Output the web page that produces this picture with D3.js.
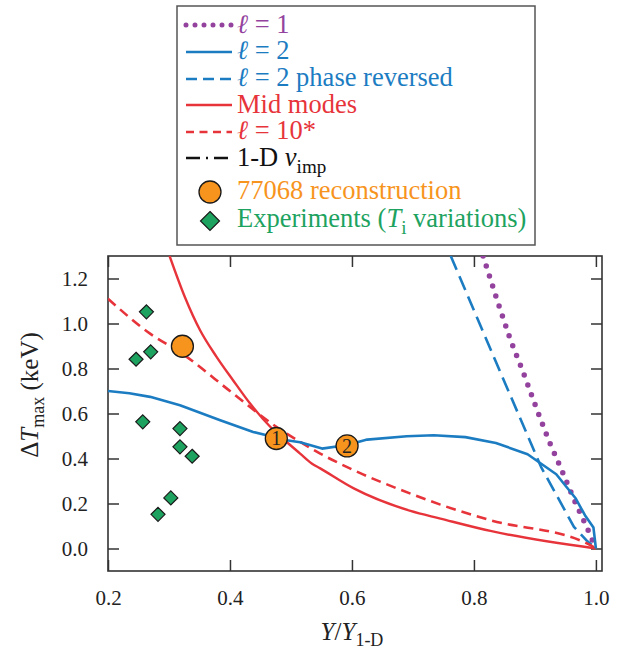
<!DOCTYPE html>
<html>
<head>
<meta charset="utf-8">
<script src="https://cdn.jsdelivr.net/npm/d3@7"></script>
<style>
body { margin: 0; background: #fff; }
</style>
</head>
<body>
<script>
// tick values
var xTicks = [0.2, 0.4, 0.6, 0.8, 1.0];
var yTicks = [0.0, 0.2, 0.4, 0.6, 0.8, 1.0, 1.2];

// l = 1 (purple dotted)
var l1X = [0.815, 0.838, 0.860, 0.880, 0.904, 0.923, 0.944, 0.964, 0.986, 1.0];
var l1Y = [1.30, 1.104, 0.926, 0.789, 0.612, 0.478, 0.348, 0.218, 0.089, 0.0];

// l = 2 (blue solid)
var l2X = [0.2, 0.235, 0.269, 0.318, 0.384, 0.438, 0.493, 0.515, 0.551, 0.592, 0.625, 0.69, 0.734, 0.786, 0.836, 0.888, 0.935, 0.967, 0.982, 0.996, 1.0];
var l2Y = [0.70, 0.690, 0.674, 0.637, 0.570, 0.518, 0.481, 0.472, 0.444, 0.460, 0.484, 0.499, 0.503, 0.495, 0.469, 0.419, 0.330, 0.222, 0.148, 0.093, 0.0];

// l = 2 phase reversed (blue dashed)
var l2rX = [0.762, 0.836, 0.910, 0.964, 0.985, 1.0];
var l2rY = [1.30, 0.83, 0.363, 0.096, 0.035, 0.0];

// mid modes (red solid)
var midX = [0.301, 0.326, 0.351, 0.378, 0.405, 0.433, 0.466, 0.482, 0.515, 0.534, 0.548, 0.603, 0.696, 0.745, 0.827, 1.0];
var midY = [1.30, 1.118, 0.970, 0.852, 0.748, 0.644, 0.541, 0.500, 0.422, 0.378, 0.356, 0.267, 0.167, 0.133, 0.078, 0.0];

// l = 10* (red dashed)
var l10X = [0.2, 0.269, 0.321, 0.405, 0.476, 0.515, 0.548, 0.603, 0.696, 0.745, 0.827, 0.986, 1.0];
var l10Y = [1.11, 0.955, 0.867, 0.689, 0.541, 0.474, 0.422, 0.348, 0.244, 0.195, 0.126, 0.022, 0.0];

// 77068 reconstruction points (orange)
var reconX = [0.322, 0.476, 0.592];
var reconY = [0.899, 0.489, 0.456];
var reconLabels = ["", "1", "2"];

// experiments (green diamonds)
var expX = [0.263, 0.246, 0.270, 0.257, 0.318, 0.318, 0.338, 0.303, 0.282];
var expY = [1.052, 0.841, 0.874, 0.563, 0.533, 0.452, 0.410, 0.225, 0.152];

// colours
var purple = "#93439e", blue = "#1c7cc2", red = "#e7343b",
    orange = "#f7941d", green = "#1da35f", ink = "#333";
var serifFont = "'Liberation Serif', 'Times New Roman', serif";

var W = 623, H = 653;
var pLeft = 108, pRight = 602, pTop = 256, pBottom = 571;

var svg = d3.select("body").append("svg")
	.attr("width", W)
	.attr("height", H)
	.style("font-family", serifFont);

var x = d3.scaleLinear().domain([0.2, 1.01]).range([pLeft, pRight]);
var y = d3.scaleLinear().domain([-0.1, 1.3]).range([pBottom, pTop]);

// clip for the curves
svg.append("clipPath").attr("id", "plotclip")
	.append("rect")
	.attr("x", pLeft).attr("y", pTop)
	.attr("width", pRight - pLeft).attr("height", pBottom - pTop);

// axes, ticks pointing inward
var ax = svg.append("g").attr("class", "axes");
ax.append("g").attr("transform", "translate(0," + pBottom + ")")
	.call(d3.axisBottom(x).tickValues(xTicks).tickSizeInner(-11).tickSizeOuter(0).tickPadding(19).tickFormat(d3.format(".1f")));
ax.append("g").attr("transform", "translate(0," + pTop + ")")
	.call(d3.axisTop(x).tickValues(xTicks).tickSizeInner(-11).tickSizeOuter(0).tickFormat(""));
ax.append("g").attr("transform", "translate(" + pLeft + ",0)")
	.call(d3.axisLeft(y).tickValues(yTicks).tickSizeInner(-11).tickSizeOuter(0).tickPadding(20).tickFormat(d3.format(".1f")));
ax.append("g").attr("transform", "translate(" + pRight + ",0)")
	.call(d3.axisRight(y).tickValues(yTicks).tickSizeInner(-11).tickSizeOuter(0).tickFormat(""));
ax.selectAll(".domain").remove();
ax.selectAll("g").attr("font-family", null).attr("font-size", null);
ax.selectAll(".tick line").attr("stroke", ink).attr("stroke-width", 1.5);
ax.selectAll(".tick text")
	.attr("fill", "#222")
	.style("font-size", "21px")
	.style("font-family", serifFont);

// frame
svg.append("rect")
	.attr("x", pLeft).attr("y", pTop)
	.attr("width", pRight - pLeft).attr("height", pBottom - pTop)
	.attr("fill", "none")
	.attr("stroke", ink)
	.attr("stroke-width", 1.6);

// curves
var line = d3.line()
	.x(function(d){ return x(d[0]); })
	.y(function(d){ return y(d[1]); });
function pairs(xs, ys){ return xs.map(function(v, i){ return [v, ys[i]]; }); }

var curves = svg.append("g").attr("clip-path", "url(#plotclip)");
var series = [
	{ pts: pairs(l1X, l1Y), color: purple, dash: "0 10.5", width: 5.5, cap: "round", curve: d3.curveLinear },
	{ pts: pairs(l2rX, l2rY), color: blue, dash: "15 7", width: 2.6, cap: "butt", curve: d3.curveLinear },
	{ pts: pairs(l10X, l10Y), color: red, dash: "10 6", width: 2.6, cap: "butt", curve: d3.curveMonotoneX },
	{ pts: pairs(midX, midY), color: red, dash: null, width: 2.4, cap: "butt", curve: d3.curveMonotoneX },
	{ pts: pairs(l2X, l2Y), color: blue, dash: null, width: 2.6, cap: "butt", curve: d3.curveLinear }
];
series.forEach(function(s){
	curves.append("path")
		.attr("d", line.curve(s.curve)(s.pts))
		.attr("fill", "none")
		.attr("stroke", s.color)
		.attr("stroke-width", s.width)
		.attr("stroke-linecap", s.cap)
		.attr("stroke-linejoin", "round")
		.attr("stroke-dasharray", s.dash);
});

// experiment diamonds
var dsize = 7;
svg.selectAll(".exp")
	.data(pairs(expX, expY))
	.enter()
	.append("path")
	.attr("class", "exp")
	.attr("d", function(d){
		var cx = x(d[0]), cy = y(d[1]);
		return "M" + cx + "," + (cy - dsize) + "L" + (cx + dsize) + "," + cy +
			"L" + cx + "," + (cy + dsize) + "L" + (cx - dsize) + "," + cy + "Z";
	})
	.attr("fill", green)
	.attr("stroke", "#1a1a1a")
	.attr("stroke-width", 1.2);

// reconstruction circles
var recon = svg.selectAll(".recon")
	.data(reconX.map(function(v, i){ return { x: v, y: reconY[i], label: reconLabels[i] }; }))
	.enter()
	.append("g")
	.attr("class", "recon")
	.attr("transform", function(d){ return "translate(" + x(d.x) + "," + y(d.y) + ")"; });
recon.append("circle")
	.attr("r", 11)
	.attr("fill", orange)
	.attr("stroke", "#1a1a1a")
	.attr("stroke-width", 1.3);
recon.append("text")
	.attr("text-anchor", "middle")
	.attr("dy", "0.35em")
	.style("font-size", "20px")
	.style("font-family", serifFont)
	.attr("fill", "#222")
	.text(function(d){ return d.label; });

// text with italic / subscript parts
function richText(sel, parts, fs){
	var sub = false;
	sel.style("font-family", serifFont).style("font-size", fs + "px");
	parts.forEach(function(p){
		var ts = sel.append("tspan").text(p[0]);
		if (p[1] === "i") ts.style("font-style", "italic");
		if (p[1] === "s") {
			ts.style("font-size", (fs * 0.72) + "px").attr("dy", fs * 0.25);
			sub = true;
		} else if (sub) {
			ts.attr("dy", -fs * 0.25);
			sub = false;
		}
	});
}

// axis titles
var xt = svg.append("text")
	.attr("x", 352).attr("y", 640)
	.attr("text-anchor", "middle")
	.attr("fill", "#222");
richText(xt, [["Y", "i"], ["/", ""], ["Y", "i"], ["1-D", "s"]], 25);

var yt = svg.append("text")
	.attr("transform", "translate(38,395) rotate(-90)")
	.attr("text-anchor", "middle")
	.attr("fill", "#222");
richText(yt, [["\u0394", ""], ["T", "i"], ["max", "s"], [" (keV)", ""]], 25);

// legend
var lg = svg.append("g").attr("class", "legend");
lg.append("rect")
	.attr("x", 177).attr("y", 6)
	.attr("width", 358).attr("height", 239)
	.attr("fill", "#fff")
	.attr("stroke", "#555")
	.attr("stroke-width", 1.5);

var legendRows = [
	{ parts: [["\u2113", "i"], [" = 1", ""]], color: purple, kind: "line", dash: "0 9", width: 5, cap: "round", ly: 25, ty: 33 },
	{ parts: [["\u2113", "i"], [" = 2", ""]], color: blue, kind: "line", dash: null, width: 2.6, cap: "butt", ly: 52, ty: 59 },
	{ parts: [["\u2113", "i"], [" = 2 phase reversed", ""]], color: blue, kind: "line", dash: "11 6", width: 2.6, cap: "butt", ly: 79, ty: 86 },
	{ parts: [["Mid modes", ""]], color: red, kind: "line", dash: null, width: 2.6, cap: "butt", ly: 105, ty: 113 },
	{ parts: [["\u2113", "i"], [" = 10*", ""]], color: red, kind: "line", dash: "8 5.5", width: 2.6, cap: "butt", ly: 132, ty: 139 },
	{ parts: [["1-D ", ""], ["v", "i"], ["imp", "s"]], color: "#111", kind: "line", dash: "14 6 2 6", width: 2.6, cap: "butt", ly: 158, ty: 166 },
	{ parts: [["77068 reconstruction", ""]], color: orange, kind: "circle", ly: 192, ty: 199 },
	{ parts: [["Experiments (", ""], ["T", "i"], ["i", "s"], [" variations)", ""]], color: green, kind: "diamond", ly: 221, ty: 227 }
];
legendRows.forEach(function(r){
	if (r.kind === "line") {
		lg.append("line")
			.attr("x1", 186).attr("x2", 232)
			.attr("y1", r.ly).attr("y2", r.ly)
			.attr("stroke", r.color)
			.attr("stroke-width", r.width)
			.attr("stroke-linecap", r.cap)
			.attr("stroke-dasharray", r.dash);
	} else if (r.kind === "circle") {
		lg.append("circle")
			.attr("cx", 210).attr("cy", r.ly).attr("r", 11)
			.attr("fill", orange).attr("stroke", "#1a1a1a").attr("stroke-width", 1.3);
	} else {
		var s = 9.5;
		lg.append("path")
			.attr("d", "M210," + (r.ly - s) + "L" + (210 + s) + "," + r.ly + "L210," + (r.ly + s) + "L" + (210 - s) + "," + r.ly + "Z")
			.attr("fill", green).attr("stroke", "#1a1a1a").attr("stroke-width", 1.2);
	}
	var t = lg.append("text")
		.attr("x", 237).attr("y", r.ty)
		.attr("fill", r.color);
	richText(t, r.parts, 26.5);
});
</script>
</body>
</html>
